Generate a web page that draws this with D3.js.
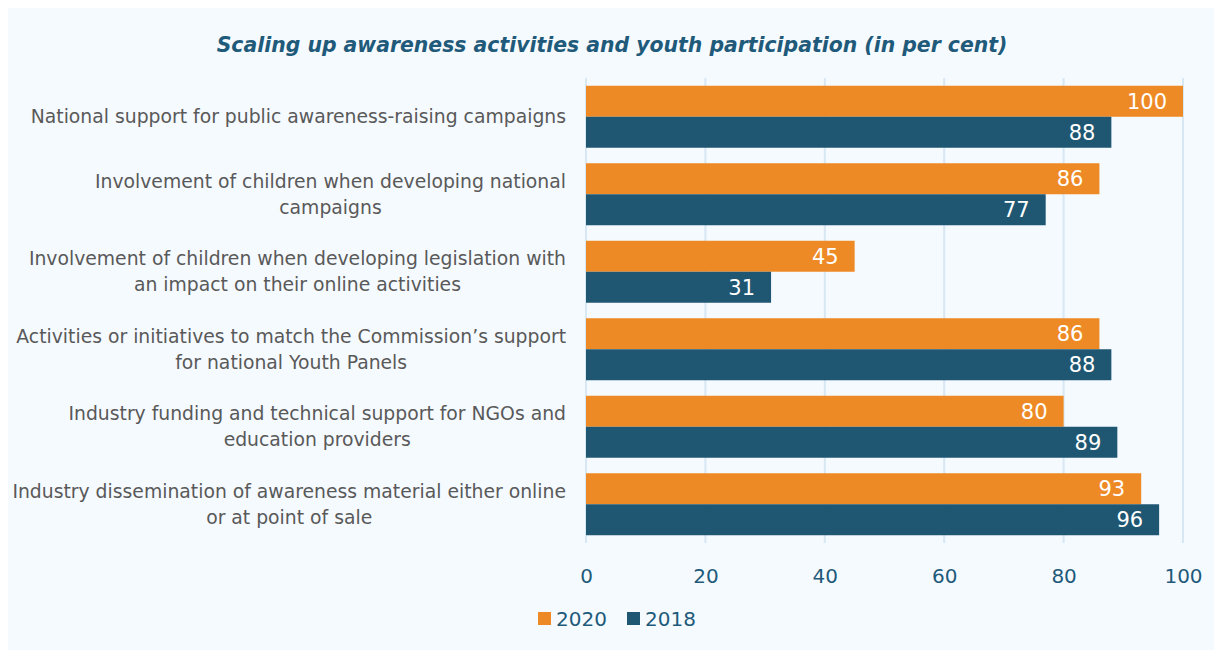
<!DOCTYPE html>
<html>
<head>
<meta charset="utf-8">
<script src="https://cdn.jsdelivr.net/npm/d3@7"></script>
<style>
  html, body { margin: 0; padding: 0; background: #ffffff; }
  svg { display: block; }
</style>
</head>
<body>
<svg id="chart" width="1215" height="650"></svg>
<script>
const categories = [
  ["National support for public awareness-raising campaigns"],
  ["Involvement of children when developing national", "campaigns"],
  ["Involvement of children when developing legislation with", "an impact on their online activities"],
  ["Activities or initiatives to match the Commission\u2019s support", "for national Youth Panels"],
  ["Industry funding and technical support for NGOs and", "education providers"],
  ["Industry dissemination of awareness material either online", "or at point of sale"]
];
const series2020 = [100, 86, 45, 86, 80, 93];
const series2018 = [88, 77, 31, 88, 89, 96];
const seriesNames = ["2020", "2018"];
const xTicks = [0, 20, 40, 60, 80, 100];
const titleText = "Scaling up awareness activities and youth participation (in per cent)";

const colors = {"2020": "#EE8A25", "2018": "#1F5773"};
const font = "'DejaVu Sans', sans-serif";
const svg = d3.select("#chart");

svg.append("rect").attr("x", 8).attr("y", 8).attr("width", 1206).attr("height", 642).attr("fill", "#F5FAFF");

const plotL = 586, plotR = 1183, plotT = 78, plotB = 543;
const x = d3.scaleLinear().domain([0, 100]).range([plotL, plotR]);
const idx = d3.range(categories.length);
const y = d3.scaleBand().domain(idx).range([plotT, plotB]).paddingInner(0.2).paddingOuter(0.1);
const ySub = d3.scaleBand().domain(seriesNames).range([0, y.bandwidth()]);

// grid
svg.append("g").selectAll("line").data(xTicks).join("line")
  .attr("x1", d => x(d)).attr("x2", d => x(d))
  .attr("y1", plotT).attr("y2", plotB)
  .attr("stroke", "#D7E7F3").attr("stroke-width", 2);

// title
svg.append("text").attr("x", 612).attr("y", 52).attr("text-anchor", "middle")
  .attr("font-family", font).attr("font-size", 20.4).attr("font-weight", "bold").attr("font-style", "italic")
  .attr("fill", "#1F5A7A").text(titleText);

const data = idx.map(i => ({i, vals: [{k: "2020", v: series2020[i]}, {k: "2018", v: series2018[i]}]}));

const groups = svg.append("g").selectAll("g").data(data).join("g")
  .attr("transform", d => `translate(0,${y(d.i)})`);

groups.selectAll("rect").data(d => d.vals).join("rect")
  .attr("x", x(0)).attr("y", d => ySub(d.k))
  .attr("width", d => x(d.v) - x(0)).attr("height", ySub.bandwidth())
  .attr("fill", d => colors[d.k]);

groups.selectAll("text.val").data(d => d.vals).join("text").attr("class", "val")
  .attr("x", d => x(d.v) - 16).attr("y", d => ySub(d.k) + ySub.bandwidth() / 2)
  .attr("dy", "0.36em").attr("text-anchor", "end")
  .attr("font-family", font).attr("font-size", 21).attr("fill", "#ffffff")
  .text(d => d.v);

// category labels
const labelRight = 566, lineH = 26;
categories.forEach((lines, i) => {
  const g = svg.append("g");
  const cy = y(i) + y.bandwidth() / 2;
  const ts = lines.map((l, j) => g.append("text")
    .attr("y", cy + (j - (lines.length - 1) / 2) * lineH)
    .attr("dy", "0.35em")
    .attr("text-anchor", "middle")
    .attr("font-family", font).attr("font-size", 18.8).attr("fill", "#595959")
    .text(l));
  const maxW = d3.max(ts, t => t.node().getComputedTextLength());
  ts.forEach(t => t.attr("x", labelRight - maxW / 2));
});

// x axis labels
const axis = d3.axisBottom(x).tickValues(xTicks).tickSize(0).tickPadding(0);
const ax = svg.append("g").attr("transform", `translate(0,${plotB + 26})`).call(axis);
ax.select(".domain").remove();
ax.selectAll("text").attr("font-family", font).attr("font-size", 20).attr("fill", "#1F5A7A");

// legend
const legend = svg.append("g");
const legItems = [{k: "2020", x: 538}, {k: "2018", x: 627}];
legItems.forEach(it => {
  legend.append("rect").attr("x", it.x).attr("y", 612).attr("width", 13).attr("height", 13).attr("fill", colors[it.k]);
  legend.append("text").attr("x", it.x + 18).attr("y", 619).attr("dy", "0.36em")
    .attr("font-family", font).attr("font-size", 20).attr("fill", "#1F5A7A").text(it.k);
});
</script>
</body>
</html>
